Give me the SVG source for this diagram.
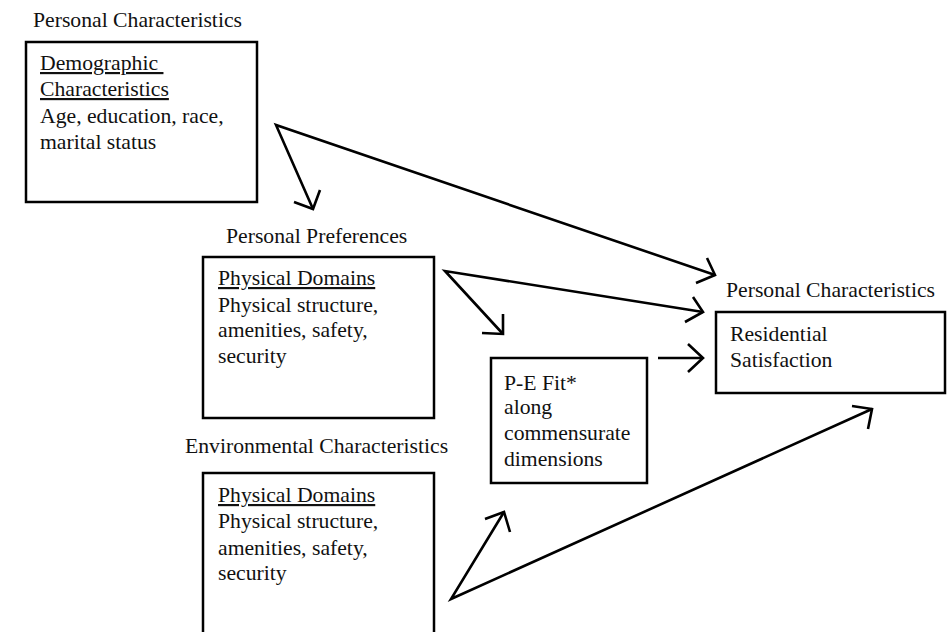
<svg xmlns="http://www.w3.org/2000/svg" width="948" height="632" viewBox="0 0 948 632">
<style>
text{font-family:"Liberation Serif","Times New Roman",serif;font-size:21.7px;fill:#111}
.box{fill:#fff;stroke:#000;stroke-width:2.5}
.c{fill:none;stroke:#000;stroke-width:2.6;stroke-linejoin:miter;stroke-linecap:butt}
.u{text-decoration:underline}
</style>
<rect width="948" height="632" fill="#fff"/>
<g id="demographic">
<text x="33" y="27">Personal Characteristics</text>
<rect class="box" x="26" y="42" width="231" height="160"/>
<text x="40" y="70" class="u" xml:space="preserve">Demographic </text>
<text x="40" y="96" class="u">Characteristics</text>
<text x="40" y="123">Age, education, race,</text>
<text x="40" y="149">marital status</text>
</g>
<g id="preferences">
<text x="226" y="243">Personal Preferences</text>
<rect class="box" x="203" y="257" width="231" height="161"/>
<text x="218" y="285" class="u">Physical Domains</text>
<text x="218" y="312">Physical structure,</text>
<text x="218" y="337">amenities, safety,</text>
<text x="218" y="363">security</text>
</g>
<g id="environment">
<text x="185" y="453">Environmental Characteristics</text>
<rect class="box" x="203" y="473" width="231" height="180"/>
<text x="218" y="502" class="u">Physical Domains</text>
<text x="218" y="528">Physical structure,</text>
<text x="218" y="555">amenities, safety,</text>
<text x="218" y="580">security</text>
</g>
<g id="pefit">
<rect class="box" x="491" y="358" width="156" height="125"/>
<text x="504" y="390">P-E Fit*</text>
<text x="504" y="414">along</text>
<text x="504" y="440">commensurate</text>
<text x="504" y="466">dimensions</text>
</g>
<g id="satisfaction">
<text x="726" y="297">Personal Characteristics</text>
<rect class="box" x="716" y="312" width="229" height="81"/>
<text x="730" y="341">Residential</text>
<text x="730" y="367">Satisfaction</text>
</g>
<g id="connectors">
<polyline class="c" points="313,209 276,125 715,275"/>
<polyline class="c" points="294,202 313,209 320,190"/>
<polyline class="c" points="707,258 715,275 696,283"/>
<polyline class="c" points="503,334 445,271 703,312"/>
<polyline class="c" points="503,314 503,334 482,333"/>
<polyline class="c" points="693,297 703,312 685,322"/>
<line class="c" x1="658" y1="358" x2="703" y2="358"/>
<polyline class="c" points="688,344 703,358 688,372"/>
<polyline class="c" points="504,512 451,599 872,409"/>
<polyline class="c" points="485,519 504,512 510,532"/>
<polyline class="c" points="852,406 872,409 868,429"/>
</g>
</svg>
